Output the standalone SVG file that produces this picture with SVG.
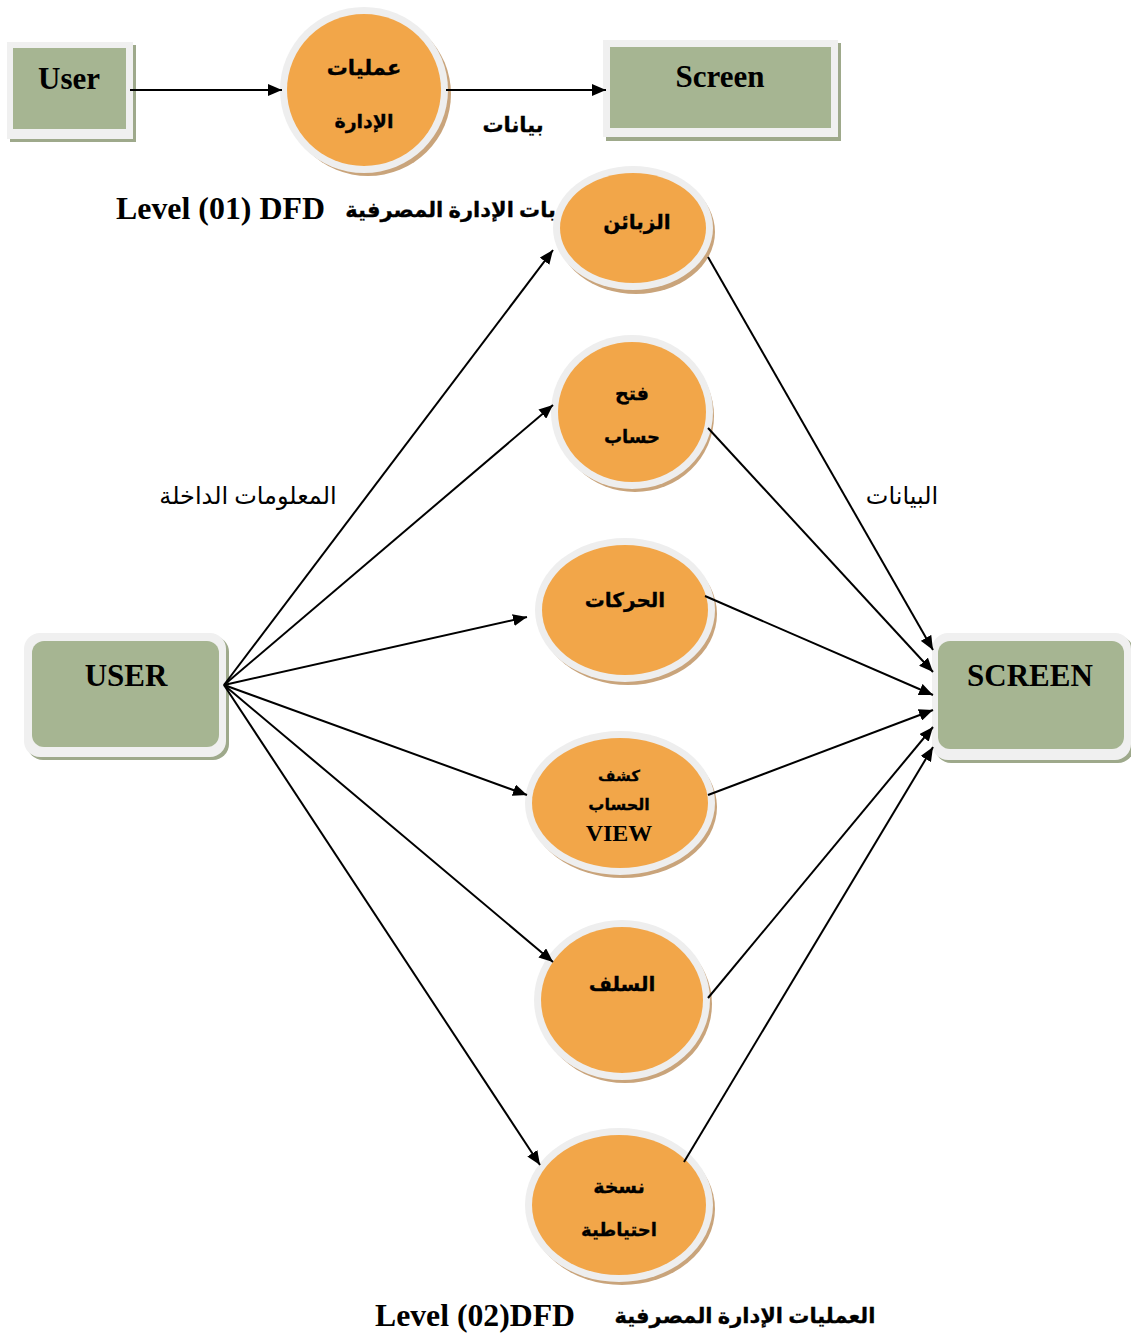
<svg xmlns="http://www.w3.org/2000/svg" width="1131" height="1333" viewBox="0 0 1131 1333">
<defs>
<marker id="arr" markerUnits="userSpaceOnUse" markerWidth="14" markerHeight="12" refX="14" refY="6" orient="auto">
<path d="M0,0 L14,6 L0,12 z" fill="#000"/>
</marker>
</defs>
<style>
.bshadow{fill:#9ea98b}
.bframe{fill:#f0f0f0}
.binner{fill:#a6b592}
.eshadow{fill:#c9a47b}
.eframe{fill:#eeeeee}
.einner{fill:#f2a649}
.lt{font-family:"Liberation Serif","Times New Roman",serif;font-weight:bold;fill:#000}
.ar{font-family:"Liberation Serif","DejaVu Sans",serif;font-weight:bold;fill:#000;stroke:#000;stroke-width:0.3}
.arn{font-family:"Liberation Serif","DejaVu Sans",serif;fill:#000}
.conn line{stroke:#000;stroke-width:2;fill:none;marker-end:url(#arr)}
</style>
<rect width="1131" height="1333" fill="#fff"/>

<!-- Level 01 -->
<g id="user1">
<rect class="bshadow" x="10" y="45" width="126" height="97"/>
<rect class="bframe" x="7" y="42" width="126" height="97"/>
<rect class="binner" x="13" y="48" width="113" height="81"/>
<text class="lt" x="69" y="89" font-size="31" text-anchor="middle">User</text>
</g>
<g id="proc1">
<ellipse class="eshadow" cx="368" cy="94" rx="83" ry="82"/>
<ellipse class="eframe" cx="364" cy="90" rx="84" ry="83"/>
<ellipse class="einner" cx="364" cy="90" rx="77" ry="76"/>
<text class="ar" x="364" y="68" font-size="21" text-anchor="middle" dominant-baseline="central">عمليات</text>
<text class="ar" x="364" y="121" font-size="19" text-anchor="middle" dominant-baseline="central">الإدارة</text>
</g>
<g id="screen1">
<rect class="bshadow" x="606" y="43" width="235" height="98"/>
<rect class="bframe" x="603" y="40" width="235" height="97"/>
<rect class="binner" x="610" y="47" width="221" height="81"/>
<text class="lt" x="720" y="87" font-size="31" text-anchor="middle">Screen</text>
</g>
<g id="conn1" class="conn">
<line x1="130" y1="90" x2="282" y2="90"/>
<line x1="446" y1="90" x2="606" y2="90"/>
</g>
<text class="ar" x="513" y="125" font-size="21" text-anchor="middle" dominant-baseline="central">بيانات</text>
<text class="lt" x="116" y="219" font-size="31" textLength="209" lengthAdjust="spacingAndGlyphs">Level (01) DFD</text>
<text class="ar" x="556" y="210" font-size="21" text-anchor="end" dominant-baseline="central">بات الإدارة المصرفية</text>

<g id="n1">
<ellipse class="eshadow" cx="636" cy="232" rx="79" ry="62"/>
<ellipse class="eframe" cx="633" cy="228" rx="80" ry="62"/>
<ellipse class="einner" cx="633" cy="228" rx="73" ry="55"/>
<text class="ar" x="637" y="222" font-size="20" text-anchor="middle" dominant-baseline="central">الزبائن</text>
</g>
<g id="n2">
<ellipse class="eshadow" cx="635" cy="416" rx="79" ry="76"/>
<ellipse class="eframe" cx="632" cy="412" rx="81" ry="77"/>
<ellipse class="einner" cx="632" cy="412" rx="74" ry="70"/>
<text class="ar" x="632" y="393" font-size="19" text-anchor="middle" dominant-baseline="central">فتح</text>
<text class="ar" x="632" y="437" font-size="18" text-anchor="middle" dominant-baseline="central">حساب</text>
</g>
<g id="n3">
<ellipse class="eshadow" cx="628" cy="614" rx="89" ry="71"/>
<ellipse class="eframe" cx="625" cy="610" rx="90" ry="72"/>
<ellipse class="einner" cx="625" cy="610" rx="83" ry="65"/>
<text class="ar" x="625" y="600" font-size="20" text-anchor="middle" dominant-baseline="central">الحركات</text>
</g>
<g id="n4">
<ellipse class="eshadow" cx="623" cy="807" rx="94" ry="71"/>
<ellipse class="eframe" cx="620" cy="803" rx="95" ry="72"/>
<ellipse class="einner" cx="620" cy="803" rx="88" ry="65"/>
<text class="ar" x="619" y="776" font-size="15" text-anchor="middle" dominant-baseline="central">كشف</text>
<text class="ar" x="619" y="804" font-size="16" text-anchor="middle" dominant-baseline="central">الحساب</text>
<text class="lt" x="619" y="841" font-size="24" text-anchor="middle">VIEW</text>
</g>
<g id="n5">
<ellipse class="eshadow" cx="625" cy="1004" rx="87" ry="79"/>
<ellipse class="eframe" cx="622" cy="1000" rx="88" ry="80"/>
<ellipse class="einner" cx="622" cy="1000" rx="81" ry="73"/>
<text class="ar" x="622" y="984" font-size="20" text-anchor="middle" dominant-baseline="central">السلف</text>
</g>
<g id="n6">
<ellipse class="eshadow" cx="622" cy="1209" rx="93" ry="76"/>
<ellipse class="eframe" cx="619" cy="1205" rx="94" ry="77"/>
<ellipse class="einner" cx="619" cy="1205" rx="87" ry="70"/>
<text class="ar" x="619" y="1186" font-size="19" text-anchor="middle" dominant-baseline="central">نسخة</text>
<text class="ar" x="619" y="1230" font-size="18" text-anchor="middle" dominant-baseline="central">احتياطية</text>
</g>

<g id="user2">
<rect class="bshadow" x="27" y="636" width="202" height="124" rx="16"/>
<rect class="bframe" x="24" y="633" width="202" height="124" rx="16"/>
<rect class="binner" x="32" y="641" width="187" height="106" rx="12"/>
<text class="lt" x="126" y="686" font-size="31" text-anchor="middle">USER</text>
</g>
<g id="screen2">
<rect class="bshadow" x="935" y="636" width="199" height="127" rx="16"/>
<rect class="bframe" x="932" y="633" width="199" height="127" rx="16"/>
<rect class="binner" x="938" y="641" width="186" height="108" rx="12"/>
<text class="lt" x="1030" y="686" font-size="31" text-anchor="middle">SCREEN</text>
</g>

<!-- Level 02 connectors -->
<g id="connectors" class="conn">
<line x1="224" y1="685" x2="553" y2="250"/>
<line x1="224" y1="685" x2="553" y2="405"/>
<line x1="224" y1="685" x2="527" y2="617"/>
<line x1="224" y1="685" x2="527" y2="795"/>
<line x1="224" y1="685" x2="553" y2="962"/>
<line x1="224" y1="685" x2="540" y2="1165"/>
<line x1="708" y1="257" x2="933" y2="650"/>
<line x1="708" y1="428" x2="933" y2="672"/>
<line x1="705" y1="596" x2="933" y2="695"/>
<line x1="708" y1="795" x2="933" y2="710"/>
<line x1="708" y1="998" x2="933" y2="727"/>
<line x1="684" y1="1162" x2="933" y2="747"/>
</g>

<text class="arn" x="248" y="496" font-size="24" text-anchor="middle" dominant-baseline="central">المعلومات الداخلة</text>
<text class="arn" x="902" y="496" font-size="24" text-anchor="middle" dominant-baseline="central">البيانات</text>

<text class="lt" x="375" y="1326" font-size="31" textLength="200" lengthAdjust="spacingAndGlyphs">Level (02)DFD</text>
<text class="ar" x="745" y="1316" font-size="21" text-anchor="middle" dominant-baseline="central">العمليات الإدارة المصرفية</text>
</svg>
